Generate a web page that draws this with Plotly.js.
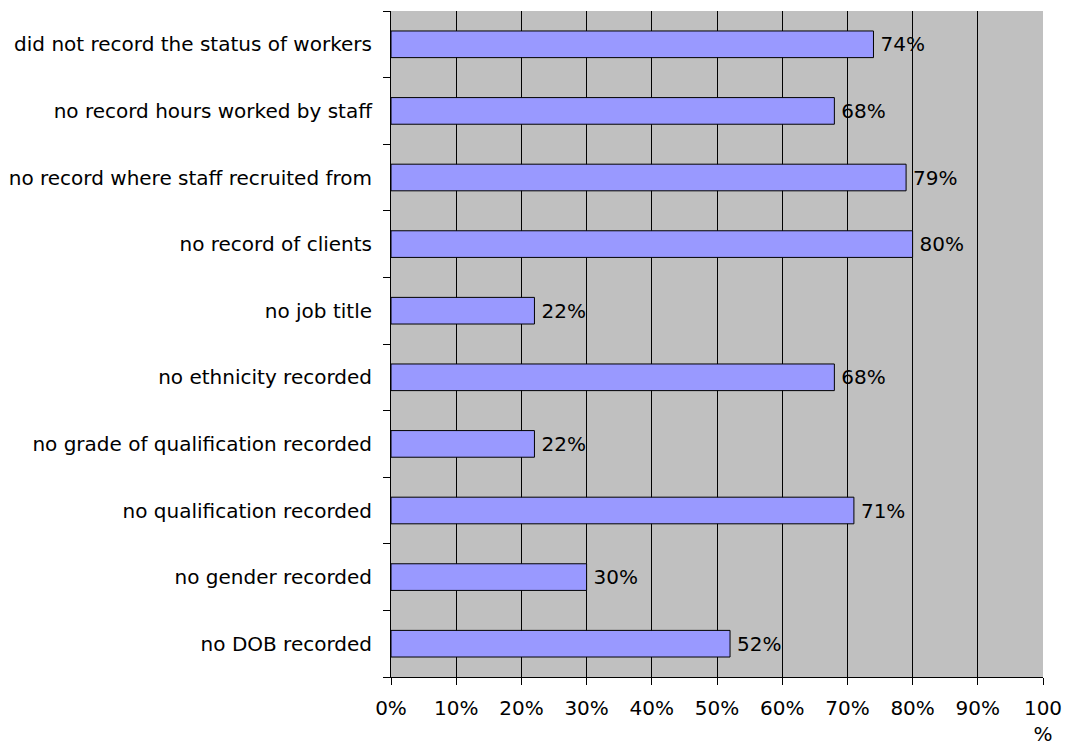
<!DOCTYPE html>
<html>
<head>
<meta charset="utf-8">
<script src="https://cdn.plot.ly/plotly-3.0.1.min.js"></script>
<style>html,body{margin:0;padding:0;background:#fff;}#chart{width:1069px;height:749px;}</style>
</head>
<body>
<div id="chart"></div>
<script>
const categories = [
  "no DOB recorded",
  "no gender recorded",
  "no qualification recorded",
  "no grade of qualification recorded",
  "no ethnicity recorded",
  "no job title",
  "no record of clients",
  "no record where staff recruited from",
  "no record hours worked by staff",
  "did not record the status of workers"
];
const values = [52, 30, 71, 22, 68, 22, 80, 79, 68, 74];
const tickVals = [0, 10, 20, 30, 40, 50, 60, 70, 80, 90, 100];
const tickText = ["0%", "10%", "20%", "30%", "40%", "50%", "60%", "70%", "80%", "90%", "100<br>%"];

const FONT = "DejaVu Sans, Tahoma, sans-serif";
const FS = 20;
const trace = {
  type: "bar",
  orientation: "h",
  y: categories,
  x: values,
  text: values.map(v => "\u2009" + v + "%"),
  textposition: "outside",
  cliponaxis: false,
  textfont: {family: FONT, size: FS, color: "#000"},
  marker: {color: "#9999FF", line: {color: "#000", width: 1}},
  width: 0.4,
  hoverinfo: "none"
};
const layout = {
  width: 1069, height: 749,
  margin: {l: 391, r: 26, t: 11, b: 72},
  paper_bgcolor: "#ffffff",
  plot_bgcolor: "#C0C0C0",
  showlegend: false,
  font: {family: FONT, size: FS, color: "#000"},
  xaxis: {
    range: [0, 100],
    tickvals: tickVals,
    ticktext: tickText,
    showgrid: true, gridcolor: "#000", gridwidth: 1,
    zeroline: false,
    showline: true, linecolor: "#000", linewidth: 1,
    ticks: "outside", ticklen: 7, tickcolor: "#000",
    ticklabelstandoff: 6,
    tickfont: {family: FONT, size: FS, color: "#000"},
    fixedrange: true
  },
  yaxis: {
    type: "category",
    categoryorder: "array",
    categoryarray: categories,
    showgrid: false, zeroline: false,
    showline: true, linecolor: "#000", linewidth: 1,
    ticks: "outside", ticklen: 7, tickcolor: "#000",
    tickson: "boundaries",
    ticklabelstandoff: 14,
    tickfont: {family: FONT, size: FS, color: "#000"},
    fixedrange: true
  }
};
Plotly.newPlot("chart", [trace], layout, {displayModeBar: false, staticPlot: true});
</script>
</body>
</html>
